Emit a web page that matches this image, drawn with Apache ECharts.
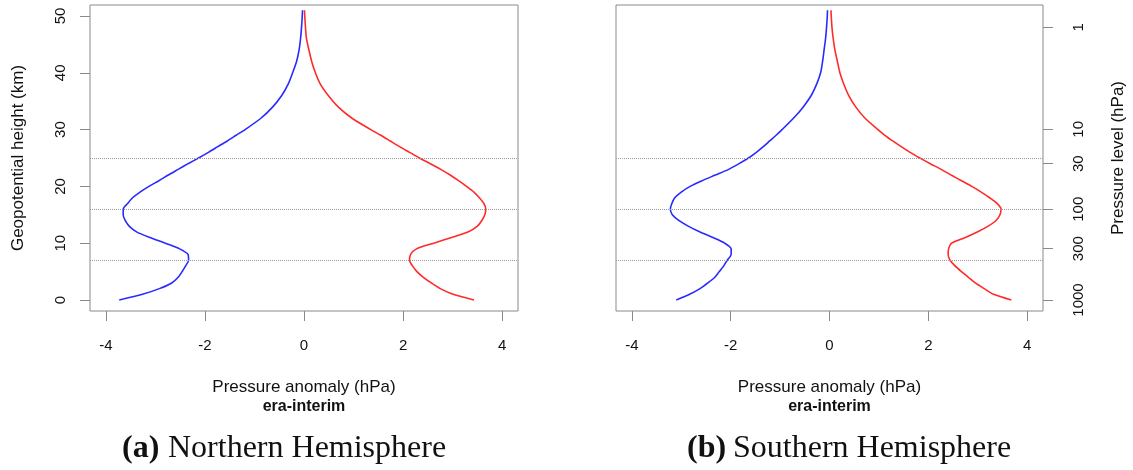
<!DOCTYPE html>
<html>
<head>
<meta charset="utf-8">
<script src="https://cdn.jsdelivr.net/npm/echarts@6.0.0/dist/echarts.min.js"></script>
<style>
html,body{margin:0;padding:0;background:#fff;}
#chart{width:1133px;height:470px;}
</style>
</head>
<body>
<div id="chart"></div>
<script>
// Geopotential heights (km) at which the profiles are read
const heights = [0,1,2,3,4,5,6,7,8,9,10,11,12,13,14,15,16,17,18,19,20,21,22,23,24,25,26,27,28,29,30,32,34,36,38,40,42,44,46,48,50,51];
// Northern Hemisphere pressure anomaly (hPa)
const nhNeg = [-3.73,-3.26,-2.92,-2.67,-2.54,-2.46,-2.39,-2.33,-2.34,-2.51,-2.80,-3.11,-3.38,-3.53,-3.61,-3.65,-3.65,-3.56,-3.46,-3.31,-3.13,-2.93,-2.74,-2.54,-2.34,-2.13,-1.93,-1.74,-1.55,-1.37,-1.19,-0.87,-0.63,-0.45,-0.32,-0.23,-0.15,-0.10,-0.07,-0.05,-0.035,-0.03];
const nhPos = [3.43,3.01,2.75,2.57,2.41,2.28,2.19,2.13,2.15,2.27,2.62,2.98,3.32,3.50,3.59,3.65,3.67,3.63,3.54,3.43,3.28,3.12,2.95,2.76,2.55,2.33,2.13,1.93,1.74,1.55,1.35,0.97,0.69,0.49,0.33,0.23,0.155,0.10,0.05,0.03,0.015,0.01];
// Southern Hemisphere pressure anomaly (hPa)
const shNeg = [-3.10,-2.83,-2.62,-2.46,-2.32,-2.23,-2.14,-2.07,-1.99,-1.99,-2.12,-2.36,-2.63,-2.86,-3.05,-3.18,-3.22,-3.19,-3.13,-3.00,-2.82,-2.58,-2.31,-2.04,-1.83,-1.64,-1.48,-1.34,-1.21,-1.08,-0.96,-0.73,-0.53,-0.37,-0.26,-0.18,-0.14,-0.11,-0.08,-0.06,-0.045,-0.04];
const shPos = [3.68,3.32,3.13,2.95,2.81,2.67,2.54,2.44,2.40,2.41,2.47,2.75,3.00,3.21,3.37,3.45,3.47,3.39,3.24,3.07,2.88,2.67,2.46,2.26,2.04,1.83,1.63,1.45,1.28,1.12,0.98,0.72,0.53,0.39,0.29,0.21,0.16,0.11,0.075,0.05,0.035,0.03];
// Axis ticks and labels
const xTicks = [-4,-2,0,2,4];
const heightTicks = [0,10,20,30,40,50];
const pressureLabels = ['1','10','30','100','300','1000'];
const pressureHeights = [48.0,30.05,24.0,15.97,9.03,0];
const refHeights = [25,16,7];
const panelCaptions = ['Northern Hemisphere','Southern Hemisphere'];
const panelLetters = ['(a)','(b)'];
const xTitle = 'Pressure anomaly (hPa)';
const subTitle = 'era-interim';

const pair = (vals) => vals.map((v,i) => [v, heights[i]]);
const SANS = 'Liberation Sans, Arial, sans-serif';
const SERIF = 'Liberation Serif, Times New Roman, serif';
const GREY = '#8a8a8a';
const Y_MIN = -1.94, Y_MAX = 51.94;
const X_MIN = -4.32, X_MAX = 4.32;

function xAxisFor(gi){
  return {
    type:'value', gridIndex:gi, min:X_MIN, max:X_MAX, position:'bottom',
    axisLine:{show:false, onZero:false},
    splitLine:{show:false},
    axisTick:{show:true, customValues:xTicks, length:10, lineStyle:{color:GREY,width:1}},
    axisLabel:{show:true, customValues:xTicks, margin:27, fontFamily:SANS, fontSize:15, color:'#111'},
    name:xTitle, nameLocation:'middle', nameGap:68,
    nameTextStyle:{fontFamily:SANS, fontSize:17, color:'#111'}
  };
}
function lineSeries(name, xi, yi, vals, color, withRefs){
  const s = {
    name, type:'line', xAxisIndex:xi, yAxisIndex:yi,
    data:pair(vals), showSymbol:false, symbol:'none', smooth:0.25,
    lineStyle:{color, width:1.6}, itemStyle:{color}, z:3,
    animation:false
  };
  if(withRefs){
    s.markLine = {
      silent:true, symbol:['none','none'],
      label:{show:false},
      lineStyle:{type:[1,1], color:'#9a9a9a', width:1},
      data: refHeights.map(h => ({yAxis:h}))
    };
  }
  return s;
}

const chart = echarts.init(document.getElementById('chart'), null, {renderer:'canvas'});
chart.setOption({
  animation:false,
  backgroundColor:'#fff',
  grid:[
    {left:90, top:5, width:428, height:306, show:true, borderColor:GREY, borderWidth:1, backgroundColor:'transparent'},
    {left:616, top:5, width:427, height:306, show:true, borderColor:GREY, borderWidth:1, backgroundColor:'transparent'}
  ],
  xAxis:[xAxisFor(0), xAxisFor(1)],
  yAxis:[
    {
      type:'value', gridIndex:0, min:Y_MIN, max:Y_MAX, position:'left',
      axisLine:{show:false, onZero:false}, splitLine:{show:false},
      axisTick:{show:true, customValues:heightTicks, length:10, lineStyle:{color:GREY}},
      axisLabel:{show:true, customValues:heightTicks, rotate:90, margin:22, fontFamily:SANS, fontSize:15, color:'#111'},
      name:'Geopotential height (km)', nameLocation:'middle', nameGap:63,
      nameTextStyle:{fontFamily:SANS, fontSize:17, color:'#111'}
    },
    {
      type:'value', gridIndex:1, min:Y_MIN, max:Y_MAX, position:'right',
      axisLine:{show:false, onZero:false}, splitLine:{show:false},
      axisTick:{show:true, customValues:pressureHeights, length:10, lineStyle:{color:GREY}},
      axisLabel:{show:true, customValues:pressureHeights, rotate:90, margin:28, fontFamily:SANS, fontSize:15, color:'#111',
        formatter:(v)=>{ const i = pressureHeights.findIndex(h=>Math.abs(h-v)<1e-6); return i>=0 ? pressureLabels[i] : ''; }},
      name:'Pressure level (hPa)', nameLocation:'middle', nameGap:67,
      nameTextStyle:{fontFamily:SANS, fontSize:17, color:'#111'}
    }
  ],
  series:[
    lineSeries('NH negative',0,0,nhNeg,'#2a2aff',true),
    lineSeries('NH positive',0,0,nhPos,'#ff2a2a',false),
    lineSeries('SH negative',1,1,shNeg,'#2a2aff',true),
    lineSeries('SH positive',1,1,shPos,'#ff2a2a',false)
  ],
  graphic:[
    {type:'text', x:304, y:399, style:{text:subTitle, font:'bold 16px '+SANS, fill:'#111', textAlign:'center'}},
    {type:'text', x:829.5, y:399, style:{text:subTitle, font:'bold 16px '+SANS, fill:'#111', textAlign:'center'}},
    {type:'group', x:122, y:433, children:[
      {type:'text', style:{text:panelLetters[0], font:'bold 32px '+SERIF, fill:'#111'}},
      {type:'text', x:46, style:{text:panelCaptions[0], font:'32px '+SERIF, fill:'#111'}}
    ]},
    {type:'group', x:687, y:433, children:[
      {type:'text', style:{text:panelLetters[1], font:'bold 32px '+SERIF, fill:'#111'}},
      {type:'text', x:46, style:{text:panelCaptions[1], font:'32px '+SERIF, fill:'#111'}}
    ]}
  ]
});
</script>
</body>
</html>
